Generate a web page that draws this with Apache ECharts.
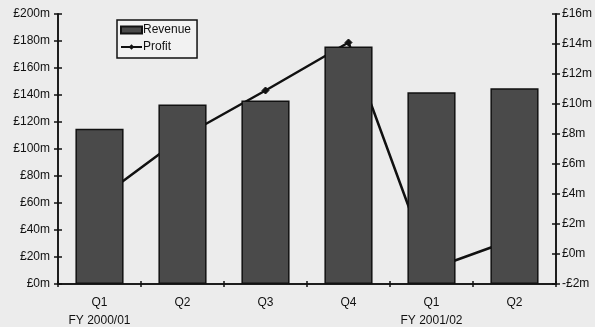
<!DOCTYPE html>
<html>
<head>
<meta charset="utf-8">
<script src="https://cdn.jsdelivr.net/npm/echarts@6/dist/echarts.min.js"></script>
<style>
  html, body { margin: 0; padding: 0; background: #ececec; }
  #chart { width: 595px; height: 327px; }
</style>
</head>
<body>
<div id="chart"></div>
<script>
// Quarterly results: revenue (£m, left axis) and profit (£m, right axis)
const quarters = ['Q1', 'Q2', 'Q3', 'Q4', 'Q1', 'Q2'];
const fiscalYears = ['FY 2000/01', '', '', '', 'FY 2001/02', ''];
const revenue = [115, 133, 136, 176, 142, 145];
const profit = [3.7, 7.8, 10.9, 14.1, -1.0, 1.0];

const FONT = 'Liberation Sans, Arial, sans-serif';
const INK = '#111';
const FS = 12;

const categories = quarters.map((q, i) => q + '|' + fiscalYears[i]);

function money(v) {
  return (v < 0 ? '-£' + Math.abs(v) : '£' + v) + 'm';
}

function yAxisDef(position, min, max, interval, showLabels, inside) {
  return {
    type: 'value',
    position: position,
    min: min, max: max, interval: interval,
    axisLine: { show: true, lineStyle: { color: INK, width: 1.5 } },
    axisTick: { show: true, inside: inside, length: 4, lineStyle: { color: INK, width: 1.5 } },
    axisLabel: {
      show: showLabels,
      margin: position === 'left' ? 8 : 6,
      color: INK, fontFamily: FONT, fontSize: FS,
      formatter: money
    },
    splitLine: { show: false }
  };
}

function xAxisDef(showLabels, inside) {
  return {
    type: 'category',
    position: 'bottom',
    data: categories,
    boundaryGap: true,
    axisLine: { show: true, onZero: false, lineStyle: { color: INK, width: 1.5 } },
    axisTick: { show: true, interval: 0, inside: inside, length: 3, lineStyle: { color: INK, width: 1.5 } },
    axisLabel: {
      show: showLabels,
      interval: 0,
      margin: 10,
      color: INK, fontFamily: FONT, fontSize: FS,
      formatter: function (v) {
        const parts = v.split('|');
        return parts[1] ? '{q|' + parts[0] + '}\n{fy|' + parts[1] + '}' : '{q|' + parts[0] + '}';
      },
      rich: {
        q: { fontFamily: FONT, fontSize: FS, color: INK, lineHeight: 18 },
        fy: { fontFamily: FONT, fontSize: FS, color: INK, lineHeight: 18 }
      }
    },
    splitLine: { show: false }
  };
}

const chart = echarts.init(document.getElementById('chart'), null, { renderer: 'canvas' });
chart.setOption({
  backgroundColor: '#ececec',
  animation: false,
  grid: { left: 58, right: 38, top: 14, bottom: 43 },
  legend: {
    left: 117, top: 20,
    orient: 'vertical',
    padding: [4, 6, 5, 3],
    itemGap: 5,
    itemWidth: 21,
    itemHeight: 7,
    borderColor: INK,
    borderWidth: 1.5,
    backgroundColor: '#f2f2f2',
    textStyle: { color: INK, fontFamily: FONT, fontSize: FS, padding: [0, 0, 0, -4] },
    data: [
      { name: 'Revenue', icon: 'rect' },
      { name: 'Profit' }
    ]
  },
  xAxis: [xAxisDef(true, false), xAxisDef(false, true)],
  yAxis: [
    yAxisDef('left', 0, 200, 20, true, false),
    yAxisDef('right', -2, 16, 2, true, false),
    yAxisDef('left', 0, 200, 20, false, true),
    yAxisDef('right', -2, 16, 2, false, true)
  ],
  series: [
    {
      name: 'Revenue',
      type: 'bar',
      xAxisIndex: 0, yAxisIndex: 0,
      data: revenue,
      barWidth: '58%',
      z: 3,
      itemStyle: { color: '#4a4a4a', borderColor: INK, borderWidth: 1.5 }
    },
    {
      name: 'Profit',
      type: 'line',
      xAxisIndex: 0, yAxisIndex: 1,
      data: profit,
      z: 1,
      symbol: 'diamond',
      symbolSize: 7,
      lineStyle: { color: INK, width: 2.5 },
      itemStyle: { color: INK, borderColor: INK }
    }
  ]
});
</script>
</body>
</html>
